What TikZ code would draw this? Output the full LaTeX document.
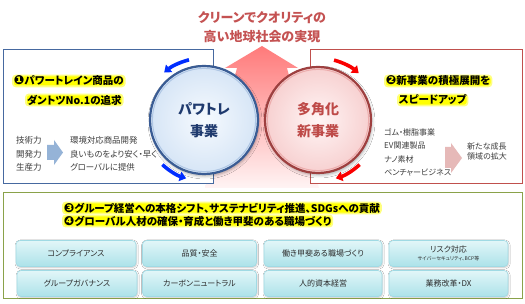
\documentclass[tikz,border=0pt]{standalone}
\usepackage{fontspec}
\setmainfont{Noto Sans CJK JP}[RawFeature={+palt}]
\newfontfamily\djv{DejaVu Sans}
\usetikzlibrary{arrows.meta,shadows.blur,calc}
\newcommand\myfs[2]{\fontsize{#1}{#2}\selectfont}
\newcommand\mynum[1]{{\djv\bfseries\myfs{12.5}{12}#1}}
\definecolor{titlered}{RGB}{196,82,82}
\definecolor{arrtop}{RGB}{255,122,122}
\definecolor{arrmid}{RGB}{252,178,178}
\definecolor{arrbot}{RGB}{255,244,244}
\definecolor{blueframe}{RGB}{70,105,160}
\definecolor{redframe}{RGB}{192,80,77}
\definecolor{greenframe}{RGB}{138,162,74}
\definecolor{navy}{RGB}{31,58,110}
\definecolor{brick}{RGB}{190,74,72}
\definecolor{bluerim}{RGB}{58,92,148}
\definecolor{redrim}{RGB}{158,64,64}
\definecolor{bluering}{RGB}{175,198,228}
\definecolor{redring}{RGB}{236,172,172}
\definecolor{bluein}{RGB}{246,250,254}
\definecolor{blueout}{RGB}{214,229,246}
\definecolor{redin}{RGB}{255,245,245}
\definecolor{redout}{RGB}{247,208,208}
\definecolor{cycblue}{RGB}{0,45,255}
\definecolor{cycred}{RGB}{250,0,0}
\definecolor{smalltxt}{RGB}{60,60,60}
\definecolor{btntxt}{RGB}{45,45,45}
\definecolor{lblue}{RGB}{149,179,215}
\definecolor{lpink}{RGB}{230,185,184}
\definecolor{btntop}{RGB}{226,246,248}
\definecolor{btnbot}{RGB}{172,226,233}
\definecolor{btnline}{RGB}{160,218,228}
\definecolor{hiyellow}{RGB}{255,255,0}
\begin{document}
\begin{tikzpicture}[x=1pt,y=-1pt,
  panel/.style={fill=white, line width=1pt},
  hilite/.style={fill=hiyellow, draw=hiyellow!50, line width=1.8pt, rounded corners=3pt,
     inner xsep=1pt, inner ysep=0.4pt, anchor=west, font=\myfs{10.5}{12}\bfseries, text=black},
  titletxt/.style={font=\myfs{13}{14}\bfseries, text=titlered, inner sep=0pt},
  smallblk/.style={anchor=west, align=left, text=smalltxt, inner sep=0pt},
  cycarrow/.style={line width=3.6pt, -{Triangle[width=9.5pt,length=6.5pt]}},
  btn/.style={rounded corners=4pt, top color=btntop, bottom color=btnbot, draw=btnline,
     line width=.6pt, blur shadow={shadow xshift=.6pt, shadow yshift=-1pt, shadow blur radius=1.6pt, shadow opacity=22},
     minimum height=26pt, text=btntxt, font=\myfs{8}{9}, inner sep=0pt, align=center}
]
\useasboundingbox (0,0) rectangle (525,304);

% title
\node[titletxt] (t1) at (262,18) {クリーンでクオリティの};
\node[titletxt] (t2) at (262,37) {高い地球社会の実現};

% big upward arrow
\shade[top color=arrtop, middle color=arrmid, bottom color=arrbot]
  (262,46) -- (298,68) -- (287,68) -- (319,188) -- (205,188) -- (237,68) -- (225,68) -- cycle;

% panels
\draw[panel, draw=blueframe] (3,50) rectangle (213,184);
\draw[panel, draw=redframe] (310,50) rectangle (522,184);
\draw[panel, draw=greenframe] (3,193) rectangle (522,299);

% circles
\node[circle, minimum size=108pt, inner sep=0pt, draw=bluerim, line width=2.2pt,
      inner color=bluein, outer color=blueout,
      blur shadow={shadow xshift=1pt, shadow yshift=-2pt, shadow blur radius=3pt, shadow opacity=35},
      align=center, font=\myfs{14}{22}\bfseries, text=navy] (cL) at (204,120) {パワトレ\\事業};
\draw[bluering, line width=1pt] (cL.center) circle (51.6);
\node[circle, minimum size=106pt, inner sep=0pt, draw=redrim, line width=2.2pt,
      inner color=redin, outer color=redout,
      blur shadow={shadow xshift=1pt, shadow yshift=-2pt, shadow blur radius=3pt, shadow opacity=35},
      align=center, font=\myfs{14}{22}\bfseries, text=brick] (cR) at (318,120) {多角化\\新事業};
\draw[redring, line width=1pt] (cR.center) circle (50.6);

% cycle arrows
\draw[cycarrow, cycblue] ($(cL.center)+(-104:62)$) arc[start angle=-104, end angle=-130, radius=62];
\draw[cycarrow, cycblue] ($(cL.center)+(133:61)$) arc[start angle=133, end angle=107, radius=61];
\draw[cycarrow, cycred] ($(cR.center)+(-75:62)$) arc[start angle=-75, end angle=-49, radius=62];
\draw[cycarrow, cycred] ($(cR.center)+(47:61)$) arc[start angle=47, end angle=73, radius=61];

% left panel content
\node[hilite] (h1) at (12,81) {\mynum{❶}パワートレイン商品の};
\node[hilite] (h1b) at (25,100) {ダントツNo.1の追求};
\node[smallblk, font=\myfs{8.5}{13.5}] (l1) at (16,154) {技術力\\開発力\\生産力};
\fill[lblue] (47,145) -- (54,145) -- (54,140) -- (63,152.5) -- (54,165) -- (54,160) -- (47,160) -- cycle;
\node[smallblk, font=\myfs{8.4}{13.5}] (l2) at (70,154) {環境対応商品開発\\良いものをより安く・早く\\グローバルに提供};

% right panel content
\node[hilite] (h2) at (384,81) {\mynum{❷}新事業の積極展開を};
\node[hilite] (h2b) at (397,100) {スピードアップ};
\node[smallblk, font=\myfs{8}{13.6}] (r1) at (384,152.5) {ゴム・樹脂事業\\EV関連製品\\ナノ素材\\ベンチャービジネス};
\fill[lpink] (445,147) -- (451,147) -- (451,143) -- (462,158) -- (451,173) -- (451,168) -- (445,168) -- cycle;
\node[smallblk, font=\myfs{8}{10}] (r2) at (467,151) {新たな成長\\領域の拡大};

% bottom panel content
\node[hilite] (h3) at (62,208) {\mynum{❸}グループ経営への本格シフト、サステナビリティ推進、SDGsへの貢献};
\node[hilite] (h4) at (62,221) {\mynum{❹}グローバル人材の確保・育成と働き甲斐のある職場づくり};

\node[btn, minimum width=120pt] (b1) at (76,253.5) {コンプライアンス};
\node[btn, minimum width=114pt] (b2) at (199.5,253.5) {品質・安全};
\node[btn, minimum width=118pt] (b3) at (323,253.5) {働き甲斐ある職場づくり};
\node[btn, minimum width=119pt] (b4) at (448.5,253.5) {リスク対応\\[-1.5pt]{\myfs{5}{6}サイバーセキュリティ、BCP等}};
\node[btn, minimum width=120pt] (b5) at (77,283.5) {グループガバナンス};
\node[btn, minimum width=114pt] (b6) at (199.5,283.5) {カーボンニュートラル};
\node[btn, minimum width=118pt] (b7) at (323,283.5) {人的資本経営};
\node[btn, minimum width=119pt] (b8) at (448.5,283.5) {業務改革・DX};
\end{tikzpicture}
\end{document}
